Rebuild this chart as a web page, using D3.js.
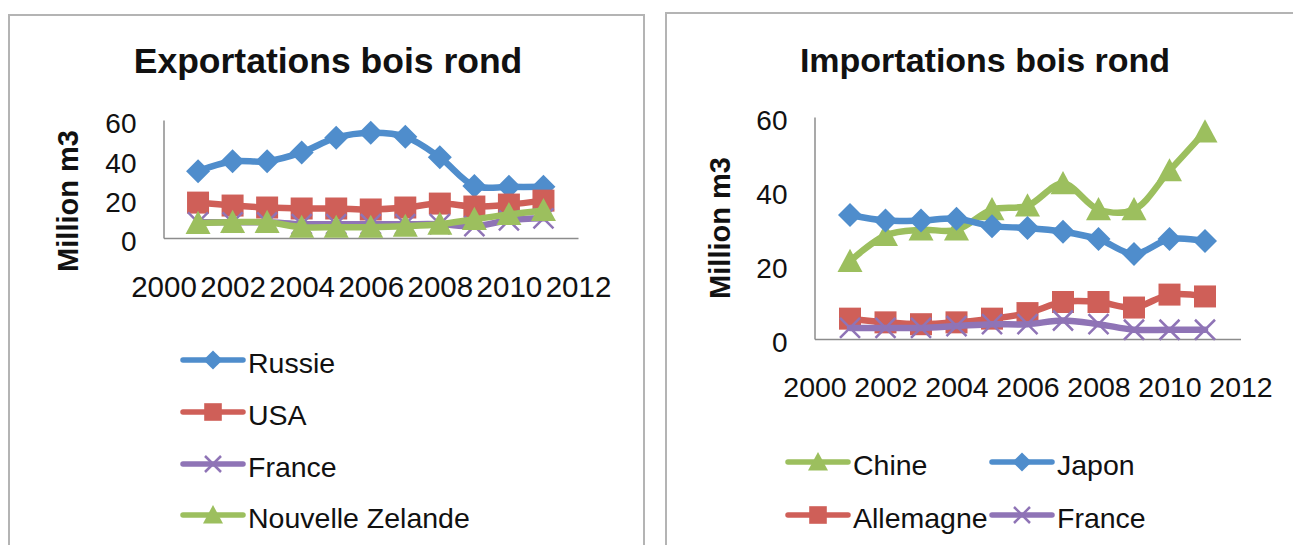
<!DOCTYPE html>
<html>
<head>
<meta charset="utf-8">
<script src="https://cdn.jsdelivr.net/npm/d3@7"></script>
<style>
  body { margin: 0; background: #fff; }
  text { font-family: "Liberation Sans", Arial, sans-serif; fill: #111; }
</style>
</head>
<body>
<svg id="chart" width="1293" height="545"></svg>
<script>
// years plotted and axis ticks
var years = [2001, 2002, 2003, 2004, 2005, 2006, 2007, 2008, 2009, 2010, 2011];
var xTicks = [2000, 2002, 2004, 2006, 2008, 2010, 2012];
var yTicks = [0, 20, 40, 60];

// exportations (million m3)
var expRussie = [34, 39, 39, 43.5, 51, 53.5, 51.5, 41, 26.5, 26, 26];
var expUSA = [18, 16.5, 15.5, 15, 15, 14.5, 15.5, 17.5, 16, 17, 19];
var expFrance = [8, 8, 8, 7, 7, 7, 7, 7, 6, 9, 10];
var expNZ = [7.5, 8, 8, 5.5, 5.5, 5.5, 6, 7, 9.5, 12, 14];

// importations (million m3)
var impChine = [21, 28, 29.5, 29.5, 35, 36, 42, 35, 35, 45.5, 56];
var impJapon = [33.5, 32, 32, 32.5, 30.5, 30, 29, 27, 23, 27, 26.5];
var impAllemagne = [5.5, 4.5, 4, 4.5, 5.5, 7, 10, 10, 8.5, 12, 11.5];
var impFrance = [3, 3, 3, 3.5, 4, 4, 5, 4, 2.5, 2.5, 2.5];

var blue = "#4f8dcc", red = "#cf5f58", green = "#9cbf5e", purple = "#8f74b6";

var svg = d3.select("#chart");

function markerPath(type, r) {
  if (type == "diamond") return "M0," + (-r) + "L" + r + ",0L0," + r + "L" + (-r) + ",0Z";
  if (type == "square") return "M" + (-r) + "," + (-r) + "H" + r + "V" + r + "H" + (-r) + "Z";
  if (type == "triangle") return "M0," + (-r) + "L" + r + "," + (r * 0.85) + "L" + (-r) + "," + (r * 0.85) + "Z";
  return "M" + (-r) + "," + (-r) + "L" + r + "," + r + "M" + (-r) + "," + r + "L" + r + "," + (-r);
}
var markerSize = { diamond: 12, square: 11, triangle: 12.5, x: 10 };

function drawMarker(g, type, color, x, y, scale) {
  var p = g.append("path")
    .attr("transform", "translate(" + x + "," + y + ")")
    .attr("d", markerPath(type, markerSize[type] * (scale || 1)));
  if (type == "x") p.attr("fill", "none").attr("stroke", color).attr("stroke-width", 2.5);
  else p.attr("fill", color);
}

function drawChart(c) {
  svg.append("rect")
    .attr("x", c.box[0]).attr("y", c.box[1])
    .attr("width", c.box[2]).attr("height", c.box[3])
    .attr("fill", "#fff").attr("stroke", "#b4b4b4").attr("stroke-width", 2);

  var x = d3.scaleLinear().domain([2000, 2012]).range([c.left, c.right]);
  var y = d3.scaleLinear().domain([0, 60]).range([c.bottom, c.top]);

  svg.append("text")
    .attr("x", c.titleX).attr("y", c.titleY)
    .attr("text-anchor", "middle")
    .style("font-weight", "bold").style("font-size", c.titleSize + "px")
    .text(c.title);

  svg.append("text")
    .attr("transform", "translate(" + c.ylabX + "," + c.ylabY + ") rotate(-90)")
    .attr("text-anchor", "middle")
    .style("font-weight", "bold").style("font-size", "29px")
    .text("Million m3");

  var ya = svg.append("g")
    .attr("transform", "translate(" + c.left + ",0)")
    .call(d3.axisLeft(y).tickValues(yTicks).tickSize(0).tickPadding(27));
  ya.select(".domain").attr("stroke", "#8c8c8c").attr("stroke-width", 1.5);
  ya.selectAll("text").attr("dy", "0.46em").style("font-size", "28px").attr("fill", "#111");

  var xa = svg.append("g")
    .attr("transform", "translate(0," + c.bottom + ")")
    .call(d3.axisBottom(x).tickValues(xTicks).tickFormat(d3.format("d")).tickSize(0).tickPadding(38));
  xa.select(".domain").attr("stroke", "#8c8c8c").attr("stroke-width", 1.5);
  xa.selectAll("text").style("font-size", c.xFont + "px").attr("fill", "#111");

  var line = d3.line()
    .x(function(d, i) { return x(years[i]); })
    .y(function(d) { return y(d); })
    .curve(d3.curveCatmullRom.alpha(0.5));

  c.series.forEach(function(s) {
    svg.append("path")
      .attr("d", line(s.values))
      .attr("fill", "none")
      .attr("stroke", s.color)
      .attr("stroke-width", 6.5)
      .attr("stroke-linejoin", "round")
      .attr("stroke-linecap", "round");
    var g = svg.append("g");
    s.values.forEach(function(v, i) {
      drawMarker(g, s.marker, s.color, x(years[i]), y(v));
    });
  });

  c.legend.forEach(function(l) {
    var s = c.series[l.i];
    svg.append("line")
      .attr("x1", l.x).attr("x2", l.x + 60)
      .attr("y1", l.y).attr("y2", l.y)
      .attr("stroke", s.color).attr("stroke-width", 5.5)
      .attr("stroke-linecap", "round");
    drawMarker(svg, s.marker, s.color, l.x + 30, l.y, 0.8);
    svg.append("text")
      .attr("x", l.x + 65).attr("y", l.y + 13)
      .style("font-size", "28.5px")
      .text(s.name);
  });
}

drawChart({
  box: [9, 15, 635, 560],
  left: 163.5, right: 578, top: 120, bottom: 238,
  title: "Exportations bois rond", titleX: 328, titleY: 73, titleSize: 35.5,
  ylabX: 78, ylabY: 201, xFont: 29.5,
  series: [
    { name: "Russie", values: expRussie, color: blue, marker: "diamond" },
    { name: "USA", values: expUSA, color: red, marker: "square" },
    { name: "France", values: expFrance, color: purple, marker: "x" },
    { name: "Nouvelle Zelande", values: expNZ, color: green, marker: "triangle" }
  ],
  legend: [
    { i: 0, x: 183, y: 360 },
    { i: 1, x: 183, y: 412 },
    { i: 2, x: 183, y: 464 },
    { i: 3, x: 183, y: 515 }
  ]
});

drawChart({
  box: [666, 13, 660, 560],
  left: 814.5, right: 1240.5, top: 117, bottom: 339,
  title: "Importations bois rond", titleX: 985, titleY: 72, titleSize: 34,
  ylabX: 730, ylabY: 228, xFont: 28.5,
  series: [
    { name: "Chine", values: impChine, color: green, marker: "triangle" },
    { name: "Japon", values: impJapon, color: blue, marker: "diamond" },
    { name: "Allemagne", values: impAllemagne, color: red, marker: "square" },
    { name: "France", values: impFrance, color: purple, marker: "x" }
  ],
  legend: [
    { i: 0, x: 788, y: 462 },
    { i: 1, x: 992, y: 462 },
    { i: 2, x: 788, y: 515 },
    { i: 3, x: 992, y: 515 }
  ]
});
</script>
</body>
</html>
